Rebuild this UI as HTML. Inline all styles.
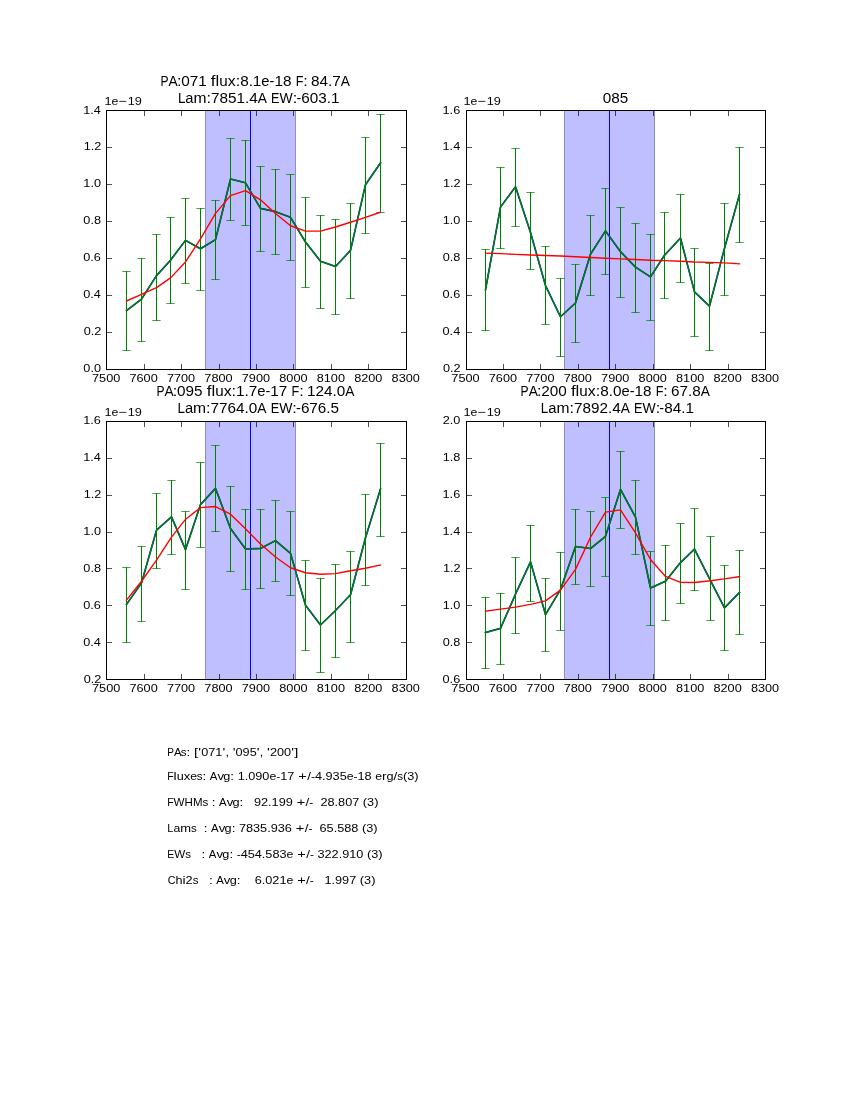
<!DOCTYPE html>
<html><head><meta charset="utf-8"><title>plot</title><style>html,body{margin:0;padding:0;background:#fff;width:850px;height:1100px;overflow:hidden}svg{display:block;will-change:transform}text{font-family:"Liberation Sans",sans-serif}</style></head><body>
<svg width="850" height="1100" viewBox="0 0 850 1100" font-family="Liberation Sans, sans-serif" style="white-space:pre">
<rect x="206" y="110.5" width="89" height="259.0" fill="#bfbfff"/>
<path d="M205.5 110.5V369.5M295.5 110.5V369.5" stroke="#8f8fbf" stroke-width="1"/>
<path d="M250.5 110.5V369.5" stroke="#0000ff" stroke-width="1"/>
<polyline points="126.50,310.65 141.50,299.08 156.50,275.64 170.50,260.21 185.50,240.38 200.50,248.79 215.50,239.59 230.50,179.05 245.50,182.84 260.50,208.40 275.50,211.63 290.50,217.36 305.50,242.00 320.50,261.27 335.50,266.49 350.50,250.41 365.50,184.69 380.50,162.87" fill="none" stroke="#0000ff" stroke-width="1.6" stroke-linejoin="round" stroke-linecap="square"/>
<path d="M126.5 271.0V351.0M141.5 258.0V342.0M156.5 234.0V321.0M170.5 217.0V304.0M185.5 198.0V284.0M200.5 208.0V291.0M215.5 200.0V280.0M230.5 138.0V221.0M245.5 140.0V226.0M260.5 166.0V252.0M275.5 169.0V255.0M290.5 174.0V261.0M305.5 197.0V288.0M320.5 215.0V309.0M335.5 219.0V315.0M350.5 203.0V299.0M365.5 137.0V234.0M380.5 114.0V213.0" stroke="#008000" stroke-width="1"/>
<path d="M122.33 271.5h8.34M122.33 350.5h8.34M137.33 258.5h8.34M137.33 341.5h8.34M152.33 234.5h8.34M152.33 320.5h8.34M166.33 217.5h8.34M166.33 303.5h8.34M181.33 198.5h8.34M181.33 283.5h8.34M196.33 208.5h8.34M196.33 290.5h8.34M211.33 200.5h8.34M211.33 279.5h8.34M226.33 138.5h8.34M226.33 220.5h8.34M241.33 140.5h8.34M241.33 225.5h8.34M256.33 166.5h8.34M256.33 251.5h8.34M271.33 169.5h8.34M271.33 254.5h8.34M286.33 174.5h8.34M286.33 260.5h8.34M301.33 197.5h8.34M301.33 287.5h8.34M316.33 215.5h8.34M316.33 308.5h8.34M331.33 219.5h8.34M331.33 314.5h8.34M346.33 203.5h8.34M346.33 298.5h8.34M361.33 137.5h8.34M361.33 233.5h8.34M376.33 114.5h8.34M376.33 212.5h8.34" stroke="#008000" stroke-width="1" opacity="0.72"/>
<polyline points="126.50,310.65 141.50,299.08 156.50,275.64 170.50,260.21 185.50,240.38 200.50,248.79 215.50,239.59 230.50,179.05 245.50,182.84 260.50,208.40 275.50,211.63 290.50,217.36 305.50,242.00 320.50,261.27 335.50,266.49 350.50,250.41 365.50,184.69 380.50,162.87" fill="none" stroke="#008000" stroke-width="1.45" stroke-linejoin="round" stroke-linecap="square"/>
<polyline points="126.50,300.97 141.50,294.32 156.50,287.66 170.50,277.86 185.50,261.96 200.50,238.86 215.50,213.34 230.50,195.60 245.50,190.60 260.50,199.85 275.50,213.53 290.50,225.73 305.50,231.09 320.50,231.09 335.50,227.02 350.50,222.22 365.50,217.41 380.50,212.23" fill="none" stroke="#ff0000" stroke-width="1.39" stroke-linejoin="round" stroke-linecap="square"/>
<rect x="106.5" y="110.5" width="300.0" height="259.0" fill="none" stroke="#000" stroke-width="1"/>
<path d="M106.5 369.5v-5.56M106.5 110.5v5.56M144.5 369.5v-5.56M144.5 110.5v5.56M181.5 369.5v-5.56M181.5 110.5v5.56M219.5 369.5v-5.56M219.5 110.5v5.56M256.5 369.5v-5.56M256.5 110.5v5.56M293.5 369.5v-5.56M293.5 110.5v5.56M331.5 369.5v-5.56M331.5 110.5v5.56M368.5 369.5v-5.56M368.5 110.5v5.56M406.5 369.5v-5.56M406.5 110.5v5.56M106.5 369.5h5.56M406.5 369.5h-5.56M106.5 332.5h5.56M406.5 332.5h-5.56M106.5 295.5h5.56M406.5 295.5h-5.56M106.5 258.5h5.56M406.5 258.5h-5.56M106.5 221.5h5.56M406.5 221.5h-5.56M106.5 184.5h5.56M406.5 184.5h-5.56M106.5 147.5h5.56M406.5 147.5h-5.56M106.5 110.5h5.56M406.5 110.5h-5.56" stroke="#000" stroke-width="0.69"/>
<g font-size="11.72" fill="#000"><text transform="matrix(1.085 0 0 1 92.05 381.80)">7</text><text transform="matrix(1.085 0 0 1 99.11 381.80)">5</text><text transform="matrix(1.085 0 0 1 106.17 381.80)">0</text><text transform="matrix(1.085 0 0 1 113.24 381.80)">0</text></g>
<g font-size="11.72" fill="#000"><text transform="matrix(1.085 0 0 1 129.48 381.80)">7</text><text transform="matrix(1.085 0 0 1 136.54 381.80)">6</text><text transform="matrix(1.085 0 0 1 143.60 381.80)">0</text><text transform="matrix(1.085 0 0 1 150.67 381.80)">0</text></g>
<g font-size="11.72" fill="#000"><text transform="matrix(1.085 0 0 1 166.91 381.80)">7</text><text transform="matrix(1.085 0 0 1 173.97 381.80)">7</text><text transform="matrix(1.085 0 0 1 181.03 381.80)">0</text><text transform="matrix(1.085 0 0 1 188.09 381.80)">0</text></g>
<g font-size="11.72" fill="#000"><text transform="matrix(1.085 0 0 1 204.34 381.80)">7</text><text transform="matrix(1.085 0 0 1 211.40 381.80)">8</text><text transform="matrix(1.085 0 0 1 218.46 381.80)">0</text><text transform="matrix(1.085 0 0 1 225.52 381.80)">0</text></g>
<g font-size="11.72" fill="#000"><text transform="matrix(1.085 0 0 1 241.76 381.80)">7</text><text transform="matrix(1.085 0 0 1 248.83 381.80)">9</text><text transform="matrix(1.085 0 0 1 255.89 381.80)">0</text><text transform="matrix(1.085 0 0 1 262.95 381.80)">0</text></g>
<g font-size="11.72" fill="#000"><text transform="matrix(1.085 0 0 1 279.29 381.80)">8</text><text transform="matrix(1.085 0 0 1 286.36 381.80)">0</text><text transform="matrix(1.085 0 0 1 293.42 381.80)">0</text><text transform="matrix(1.085 0 0 1 300.48 381.80)">0</text></g>
<g font-size="11.72" fill="#000"><text transform="matrix(1.085 0 0 1 316.72 381.80)">8</text><text transform="matrix(1.085 0 0 1 323.79 381.80)">1</text><text transform="matrix(1.085 0 0 1 330.85 381.80)">0</text><text transform="matrix(1.085 0 0 1 337.91 381.80)">0</text></g>
<g font-size="11.72" fill="#000"><text transform="matrix(1.085 0 0 1 354.15 381.80)">8</text><text transform="matrix(1.085 0 0 1 361.21 381.80)">2</text><text transform="matrix(1.085 0 0 1 368.28 381.80)">0</text><text transform="matrix(1.085 0 0 1 375.34 381.80)">0</text></g>
<g font-size="11.72" fill="#000"><text transform="matrix(1.085 0 0 1 391.58 381.80)">8</text><text transform="matrix(1.085 0 0 1 398.64 381.80)">3</text><text transform="matrix(1.085 0 0 1 405.71 381.80)">0</text><text transform="matrix(1.085 0 0 1 412.77 381.80)">0</text></g>
<g font-size="11.72" fill="#000"><text transform="matrix(1.085 0 0 1 83.34 372.00)">0</text><text transform="matrix(1.085 0 0 1 90.40 372.00)">.</text><text transform="matrix(1.085 0 0 1 93.93 372.00)">0</text></g>
<g font-size="11.72" fill="#000"><text transform="matrix(1.085 0 0 1 83.64 335.00)">0</text><text transform="matrix(1.085 0 0 1 90.70 335.00)">.</text><text transform="matrix(1.085 0 0 1 94.23 335.00)">2</text></g>
<g font-size="11.72" fill="#000"><text transform="matrix(1.085 0 0 1 83.24 298.00)">0</text><text transform="matrix(1.085 0 0 1 90.30 298.00)">.</text><text transform="matrix(1.085 0 0 1 93.83 298.00)">4</text></g>
<g font-size="11.72" fill="#000"><text transform="matrix(1.085 0 0 1 83.24 261.00)">0</text><text transform="matrix(1.085 0 0 1 90.30 261.00)">.</text><text transform="matrix(1.085 0 0 1 93.83 261.00)">6</text></g>
<g font-size="11.72" fill="#000"><text transform="matrix(1.085 0 0 1 83.34 224.00)">0</text><text transform="matrix(1.085 0 0 1 90.40 224.00)">.</text><text transform="matrix(1.085 0 0 1 93.93 224.00)">8</text></g>
<g font-size="11.72" fill="#000"><text transform="matrix(1.085 0 0 1 83.34 187.00)">1</text><text transform="matrix(1.085 0 0 1 90.40 187.00)">.</text><text transform="matrix(1.085 0 0 1 93.93 187.00)">0</text></g>
<g font-size="11.72" fill="#000"><text transform="matrix(1.085 0 0 1 83.64 150.00)">1</text><text transform="matrix(1.085 0 0 1 90.70 150.00)">.</text><text transform="matrix(1.085 0 0 1 94.23 150.00)">2</text></g>
<g font-size="11.72" fill="#000"><text transform="matrix(1.085 0 0 1 83.24 114.00)">1</text><text transform="matrix(1.085 0 0 1 90.30 114.00)">.</text><text transform="matrix(1.085 0 0 1 93.83 114.00)">4</text></g>
<g font-size="11.72" fill="#000"><text transform="matrix(1.085 0 0 1 104.50 104.90)">1</text><text transform="matrix(1.049 0 0 1 111.56 104.90)">e</text><text transform="matrix(1.250 0 0 1 118.77 104.90)">−</text><text transform="matrix(1.085 0 0 1 127.69 104.90)">1</text><text transform="matrix(1.085 0 0 1 134.75 104.90)">9</text></g>
<rect x="565" y="110.5" width="89" height="259.0" fill="#bfbfff"/>
<path d="M564.5 110.5V369.5M654.5 110.5V369.5" stroke="#8f8fbf" stroke-width="1"/>
<path d="M609.5 110.5V369.5" stroke="#0000ff" stroke-width="1"/>
<polyline points="485.50,289.79 500.50,207.06 515.50,186.81 530.50,232.48 545.50,285.54 560.50,316.78 575.50,303.01 590.50,254.20 605.50,230.91 620.50,251.66 635.50,267.14 650.50,276.94 664.50,255.26 680.50,238.02 694.50,291.91 709.50,306.10 724.50,248.24 739.50,194.39" fill="none" stroke="#0000ff" stroke-width="1.6" stroke-linejoin="round" stroke-linecap="square"/>
<path d="M485.5 249.0V331.0M500.5 167.0V249.0M515.5 148.0V227.0M530.5 192.0V270.0M545.5 246.0V325.0M560.5 278.0V357.0M575.5 264.0V343.0M590.5 215.0V296.0M605.5 188.0V275.0M620.5 207.0V298.0M635.5 223.0V313.0M650.5 234.0V321.0M664.5 212.0V299.0M680.5 194.0V283.0M694.5 248.0V337.0M709.5 263.0V351.0M724.5 203.0V296.0M739.5 147.0V243.0" stroke="#008000" stroke-width="1"/>
<path d="M481.33 249.5h8.34M481.33 330.5h8.34M496.33 167.5h8.34M496.33 248.5h8.34M511.33 148.5h8.34M511.33 226.5h8.34M526.33 192.5h8.34M526.33 269.5h8.34M541.33 246.5h8.34M541.33 324.5h8.34M556.33 278.5h8.34M556.33 356.5h8.34M571.33 264.5h8.34M571.33 342.5h8.34M586.33 215.5h8.34M586.33 295.5h8.34M601.33 188.5h8.34M601.33 274.5h8.34M616.33 207.5h8.34M616.33 297.5h8.34M631.33 223.5h8.34M631.33 312.5h8.34M646.33 234.5h8.34M646.33 320.5h8.34M660.33 212.5h8.34M660.33 298.5h8.34M676.33 194.5h8.34M676.33 282.5h8.34M690.33 248.5h8.34M690.33 336.5h8.34M705.33 263.5h8.34M705.33 350.5h8.34M720.33 203.5h8.34M720.33 295.5h8.34M735.33 147.5h8.34M735.33 242.5h8.34" stroke="#008000" stroke-width="1" opacity="0.72"/>
<polyline points="485.50,289.79 500.50,207.06 515.50,186.81 530.50,232.48 545.50,285.54 560.50,316.78 575.50,303.01 590.50,254.20 605.50,230.91 620.50,251.66 635.50,267.14 650.50,276.94 664.50,255.26 680.50,238.02 694.50,291.91 709.50,306.10 724.50,248.24 739.50,194.39" fill="none" stroke="#008000" stroke-width="1.45" stroke-linejoin="round" stroke-linecap="square"/>
<polyline points="485.50,253.09 500.50,253.65 515.50,254.38 530.50,254.94 545.50,255.49 560.50,256.05 575.50,256.79 590.50,257.53 605.50,258.27 620.50,258.82 635.50,259.56 650.50,260.30 664.50,260.67 680.50,261.22 694.50,261.96 709.50,262.33 724.50,262.89 739.50,263.81" fill="none" stroke="#ff0000" stroke-width="1.39" stroke-linejoin="round" stroke-linecap="square"/>
<rect x="466.5" y="110.5" width="299.0" height="259.0" fill="none" stroke="#000" stroke-width="1"/>
<path d="M466.5 369.5v-5.56M466.5 110.5v5.56M503.5 369.5v-5.56M503.5 110.5v5.56M540.5 369.5v-5.56M540.5 110.5v5.56M578.5 369.5v-5.56M578.5 110.5v5.56M615.5 369.5v-5.56M615.5 110.5v5.56M653.5 369.5v-5.56M653.5 110.5v5.56M690.5 369.5v-5.56M690.5 110.5v5.56M728.5 369.5v-5.56M728.5 110.5v5.56M765.5 369.5v-5.56M765.5 110.5v5.56M466.5 369.5h5.56M765.5 369.5h-5.56M466.5 332.5h5.56M765.5 332.5h-5.56M466.5 295.5h5.56M765.5 295.5h-5.56M466.5 258.5h5.56M765.5 258.5h-5.56M466.5 221.5h5.56M765.5 221.5h-5.56M466.5 184.5h5.56M765.5 184.5h-5.56M466.5 147.5h5.56M765.5 147.5h-5.56M466.5 110.5h5.56M765.5 110.5h-5.56" stroke="#000" stroke-width="0.69"/>
<g font-size="11.72" fill="#000"><text transform="matrix(1.085 0 0 1 451.37 381.80)">7</text><text transform="matrix(1.085 0 0 1 458.43 381.80)">5</text><text transform="matrix(1.085 0 0 1 465.50 381.80)">0</text><text transform="matrix(1.085 0 0 1 472.56 381.80)">0</text></g>
<g font-size="11.72" fill="#000"><text transform="matrix(1.085 0 0 1 488.80 381.80)">7</text><text transform="matrix(1.085 0 0 1 495.86 381.80)">6</text><text transform="matrix(1.085 0 0 1 502.92 381.80)">0</text><text transform="matrix(1.085 0 0 1 509.99 381.80)">0</text></g>
<g font-size="11.72" fill="#000"><text transform="matrix(1.085 0 0 1 526.23 381.80)">7</text><text transform="matrix(1.085 0 0 1 533.29 381.80)">7</text><text transform="matrix(1.085 0 0 1 540.35 381.80)">0</text><text transform="matrix(1.085 0 0 1 547.42 381.80)">0</text></g>
<g font-size="11.72" fill="#000"><text transform="matrix(1.085 0 0 1 563.66 381.80)">7</text><text transform="matrix(1.085 0 0 1 570.72 381.80)">8</text><text transform="matrix(1.085 0 0 1 577.78 381.80)">0</text><text transform="matrix(1.085 0 0 1 584.84 381.80)">0</text></g>
<g font-size="11.72" fill="#000"><text transform="matrix(1.085 0 0 1 601.09 381.80)">7</text><text transform="matrix(1.085 0 0 1 608.15 381.80)">9</text><text transform="matrix(1.085 0 0 1 615.21 381.80)">0</text><text transform="matrix(1.085 0 0 1 622.27 381.80)">0</text></g>
<g font-size="11.72" fill="#000"><text transform="matrix(1.085 0 0 1 638.61 381.80)">8</text><text transform="matrix(1.085 0 0 1 645.68 381.80)">0</text><text transform="matrix(1.085 0 0 1 652.74 381.80)">0</text><text transform="matrix(1.085 0 0 1 659.80 381.80)">0</text></g>
<g font-size="11.72" fill="#000"><text transform="matrix(1.085 0 0 1 676.04 381.80)">8</text><text transform="matrix(1.085 0 0 1 683.10 381.80)">1</text><text transform="matrix(1.085 0 0 1 690.17 381.80)">0</text><text transform="matrix(1.085 0 0 1 697.23 381.80)">0</text></g>
<g font-size="11.72" fill="#000"><text transform="matrix(1.085 0 0 1 713.47 381.80)">8</text><text transform="matrix(1.085 0 0 1 720.53 381.80)">2</text><text transform="matrix(1.085 0 0 1 727.60 381.80)">0</text><text transform="matrix(1.085 0 0 1 734.66 381.80)">0</text></g>
<g font-size="11.72" fill="#000"><text transform="matrix(1.085 0 0 1 750.90 381.80)">8</text><text transform="matrix(1.085 0 0 1 757.96 381.80)">3</text><text transform="matrix(1.085 0 0 1 765.02 381.80)">0</text><text transform="matrix(1.085 0 0 1 772.09 381.80)">0</text></g>
<g font-size="11.72" fill="#000"><text transform="matrix(1.085 0 0 1 442.96 372.00)">0</text><text transform="matrix(1.085 0 0 1 450.02 372.00)">.</text><text transform="matrix(1.085 0 0 1 453.55 372.00)">2</text></g>
<g font-size="11.72" fill="#000"><text transform="matrix(1.085 0 0 1 442.56 335.00)">0</text><text transform="matrix(1.085 0 0 1 449.62 335.00)">.</text><text transform="matrix(1.085 0 0 1 453.15 335.00)">4</text></g>
<g font-size="11.72" fill="#000"><text transform="matrix(1.085 0 0 1 442.56 298.00)">0</text><text transform="matrix(1.085 0 0 1 449.62 298.00)">.</text><text transform="matrix(1.085 0 0 1 453.15 298.00)">6</text></g>
<g font-size="11.72" fill="#000"><text transform="matrix(1.085 0 0 1 442.66 261.00)">0</text><text transform="matrix(1.085 0 0 1 449.72 261.00)">.</text><text transform="matrix(1.085 0 0 1 453.25 261.00)">8</text></g>
<g font-size="11.72" fill="#000"><text transform="matrix(1.085 0 0 1 442.66 224.00)">1</text><text transform="matrix(1.085 0 0 1 449.72 224.00)">.</text><text transform="matrix(1.085 0 0 1 453.25 224.00)">0</text></g>
<g font-size="11.72" fill="#000"><text transform="matrix(1.085 0 0 1 442.96 187.00)">1</text><text transform="matrix(1.085 0 0 1 450.02 187.00)">.</text><text transform="matrix(1.085 0 0 1 453.55 187.00)">2</text></g>
<g font-size="11.72" fill="#000"><text transform="matrix(1.085 0 0 1 442.56 150.00)">1</text><text transform="matrix(1.085 0 0 1 449.62 150.00)">.</text><text transform="matrix(1.085 0 0 1 453.15 150.00)">4</text></g>
<g font-size="11.72" fill="#000"><text transform="matrix(1.085 0 0 1 442.56 114.00)">1</text><text transform="matrix(1.085 0 0 1 449.62 114.00)">.</text><text transform="matrix(1.085 0 0 1 453.15 114.00)">6</text></g>
<g font-size="11.72" fill="#000"><text transform="matrix(1.085 0 0 1 463.50 104.90)">1</text><text transform="matrix(1.049 0 0 1 470.56 104.90)">e</text><text transform="matrix(1.250 0 0 1 477.77 104.90)">−</text><text transform="matrix(1.085 0 0 1 486.69 104.90)">1</text><text transform="matrix(1.085 0 0 1 493.75 104.90)">9</text></g>
<rect x="206" y="421.5" width="89" height="258.0" fill="#bfbfff"/>
<path d="M205.5 421.5V679.5M295.5 421.5V679.5" stroke="#8f8fbf" stroke-width="1"/>
<path d="M250.5 421.5V679.5" stroke="#0000ff" stroke-width="1"/>
<polyline points="126.50,604.35 141.50,582.95 156.50,530.22 171.50,516.86 185.50,549.68 200.50,504.61 215.50,488.39 230.50,528.42 245.50,548.94 260.50,548.47 275.50,540.66 290.50,553.37 305.50,605.18 320.50,624.97 335.50,610.50 350.50,594.74 365.50,537.80 380.50,488.95" fill="none" stroke="#0000ff" stroke-width="1.6" stroke-linejoin="round" stroke-linecap="square"/>
<path d="M126.5 567.0V643.0M141.5 546.0V622.0M156.5 493.0V569.0M171.5 480.0V555.0M185.5 511.0V590.0M200.5 462.0V548.0M215.5 445.0V532.0M230.5 486.0V572.0M245.5 509.0V590.0M260.5 509.0V589.0M275.5 500.0V582.0M290.5 511.0V596.0M305.5 560.0V651.0M320.5 578.0V673.0M335.5 564.0V658.0M350.5 551.0V643.0M365.5 494.0V586.0M380.5 443.0V537.0" stroke="#008000" stroke-width="1"/>
<path d="M122.33 567.5h8.34M122.33 642.5h8.34M137.33 546.5h8.34M137.33 621.5h8.34M152.33 493.5h8.34M152.33 568.5h8.34M167.33 480.5h8.34M167.33 554.5h8.34M181.33 511.5h8.34M181.33 589.5h8.34M196.33 462.5h8.34M196.33 547.5h8.34M211.33 445.5h8.34M211.33 531.5h8.34M226.33 486.5h8.34M226.33 571.5h8.34M241.33 509.5h8.34M241.33 589.5h8.34M256.33 509.5h8.34M256.33 588.5h8.34M271.33 500.5h8.34M271.33 581.5h8.34M286.33 511.5h8.34M286.33 595.5h8.34M301.33 560.5h8.34M301.33 650.5h8.34M316.33 578.5h8.34M316.33 672.5h8.34M331.33 564.5h8.34M331.33 657.5h8.34M346.33 551.5h8.34M346.33 642.5h8.34M361.33 494.5h8.34M361.33 585.5h8.34M376.33 443.5h8.34M376.33 536.5h8.34" stroke="#008000" stroke-width="1" opacity="0.72"/>
<polyline points="126.50,604.35 141.50,582.95 156.50,530.22 171.50,516.86 185.50,549.68 200.50,504.61 215.50,488.39 230.50,528.42 245.50,548.94 260.50,548.47 275.50,540.66 290.50,553.37 305.50,605.18 320.50,624.97 335.50,610.50 350.50,594.74 365.50,537.80 380.50,488.95" fill="none" stroke="#008000" stroke-width="1.45" stroke-linejoin="round" stroke-linecap="square"/>
<polyline points="126.50,600.10 141.50,581.24 156.50,560.17 171.50,537.06 185.50,519.31 200.50,507.66 215.50,506.56 230.50,514.13 245.50,528.74 260.50,544.08 275.50,557.03 290.50,567.75 305.50,572.74 320.50,574.22 335.50,573.66 350.50,570.71 365.50,568.30 380.50,564.97" fill="none" stroke="#ff0000" stroke-width="1.39" stroke-linejoin="round" stroke-linecap="square"/>
<rect x="106.5" y="421.5" width="300.0" height="258.0" fill="none" stroke="#000" stroke-width="1"/>
<path d="M106.5 679.5v-5.56M106.5 421.5v5.56M144.5 679.5v-5.56M144.5 421.5v5.56M181.5 679.5v-5.56M181.5 421.5v5.56M219.5 679.5v-5.56M219.5 421.5v5.56M256.5 679.5v-5.56M256.5 421.5v5.56M293.5 679.5v-5.56M293.5 421.5v5.56M331.5 679.5v-5.56M331.5 421.5v5.56M368.5 679.5v-5.56M368.5 421.5v5.56M406.5 679.5v-5.56M406.5 421.5v5.56M106.5 679.5h5.56M406.5 679.5h-5.56M106.5 642.5h5.56M406.5 642.5h-5.56M106.5 605.5h5.56M406.5 605.5h-5.56M106.5 568.5h5.56M406.5 568.5h-5.56M106.5 532.5h5.56M406.5 532.5h-5.56M106.5 495.5h5.56M406.5 495.5h-5.56M106.5 458.5h5.56M406.5 458.5h-5.56M106.5 421.5h5.56M406.5 421.5h-5.56" stroke="#000" stroke-width="0.69"/>
<g font-size="11.72" fill="#000"><text transform="matrix(1.085 0 0 1 92.05 692.40)">7</text><text transform="matrix(1.085 0 0 1 99.11 692.40)">5</text><text transform="matrix(1.085 0 0 1 106.17 692.40)">0</text><text transform="matrix(1.085 0 0 1 113.24 692.40)">0</text></g>
<g font-size="11.72" fill="#000"><text transform="matrix(1.085 0 0 1 129.48 692.40)">7</text><text transform="matrix(1.085 0 0 1 136.54 692.40)">6</text><text transform="matrix(1.085 0 0 1 143.60 692.40)">0</text><text transform="matrix(1.085 0 0 1 150.67 692.40)">0</text></g>
<g font-size="11.72" fill="#000"><text transform="matrix(1.085 0 0 1 166.91 692.40)">7</text><text transform="matrix(1.085 0 0 1 173.97 692.40)">7</text><text transform="matrix(1.085 0 0 1 181.03 692.40)">0</text><text transform="matrix(1.085 0 0 1 188.09 692.40)">0</text></g>
<g font-size="11.72" fill="#000"><text transform="matrix(1.085 0 0 1 204.34 692.40)">7</text><text transform="matrix(1.085 0 0 1 211.40 692.40)">8</text><text transform="matrix(1.085 0 0 1 218.46 692.40)">0</text><text transform="matrix(1.085 0 0 1 225.52 692.40)">0</text></g>
<g font-size="11.72" fill="#000"><text transform="matrix(1.085 0 0 1 241.76 692.40)">7</text><text transform="matrix(1.085 0 0 1 248.83 692.40)">9</text><text transform="matrix(1.085 0 0 1 255.89 692.40)">0</text><text transform="matrix(1.085 0 0 1 262.95 692.40)">0</text></g>
<g font-size="11.72" fill="#000"><text transform="matrix(1.085 0 0 1 279.29 692.40)">8</text><text transform="matrix(1.085 0 0 1 286.36 692.40)">0</text><text transform="matrix(1.085 0 0 1 293.42 692.40)">0</text><text transform="matrix(1.085 0 0 1 300.48 692.40)">0</text></g>
<g font-size="11.72" fill="#000"><text transform="matrix(1.085 0 0 1 316.72 692.40)">8</text><text transform="matrix(1.085 0 0 1 323.79 692.40)">1</text><text transform="matrix(1.085 0 0 1 330.85 692.40)">0</text><text transform="matrix(1.085 0 0 1 337.91 692.40)">0</text></g>
<g font-size="11.72" fill="#000"><text transform="matrix(1.085 0 0 1 354.15 692.40)">8</text><text transform="matrix(1.085 0 0 1 361.21 692.40)">2</text><text transform="matrix(1.085 0 0 1 368.28 692.40)">0</text><text transform="matrix(1.085 0 0 1 375.34 692.40)">0</text></g>
<g font-size="11.72" fill="#000"><text transform="matrix(1.085 0 0 1 391.58 692.40)">8</text><text transform="matrix(1.085 0 0 1 398.64 692.40)">3</text><text transform="matrix(1.085 0 0 1 405.71 692.40)">0</text><text transform="matrix(1.085 0 0 1 412.77 692.40)">0</text></g>
<g font-size="11.72" fill="#000"><text transform="matrix(1.085 0 0 1 83.64 683.00)">0</text><text transform="matrix(1.085 0 0 1 90.70 683.00)">.</text><text transform="matrix(1.085 0 0 1 94.23 683.00)">2</text></g>
<g font-size="11.72" fill="#000"><text transform="matrix(1.085 0 0 1 83.24 646.00)">0</text><text transform="matrix(1.085 0 0 1 90.30 646.00)">.</text><text transform="matrix(1.085 0 0 1 93.83 646.00)">4</text></g>
<g font-size="11.72" fill="#000"><text transform="matrix(1.085 0 0 1 83.24 609.00)">0</text><text transform="matrix(1.085 0 0 1 90.30 609.00)">.</text><text transform="matrix(1.085 0 0 1 93.83 609.00)">6</text></g>
<g font-size="11.72" fill="#000"><text transform="matrix(1.085 0 0 1 83.34 572.00)">0</text><text transform="matrix(1.085 0 0 1 90.40 572.00)">.</text><text transform="matrix(1.085 0 0 1 93.93 572.00)">8</text></g>
<g font-size="11.72" fill="#000"><text transform="matrix(1.085 0 0 1 83.34 535.00)">1</text><text transform="matrix(1.085 0 0 1 90.40 535.00)">.</text><text transform="matrix(1.085 0 0 1 93.93 535.00)">0</text></g>
<g font-size="11.72" fill="#000"><text transform="matrix(1.085 0 0 1 83.64 498.00)">1</text><text transform="matrix(1.085 0 0 1 90.70 498.00)">.</text><text transform="matrix(1.085 0 0 1 94.23 498.00)">2</text></g>
<g font-size="11.72" fill="#000"><text transform="matrix(1.085 0 0 1 83.24 461.00)">1</text><text transform="matrix(1.085 0 0 1 90.30 461.00)">.</text><text transform="matrix(1.085 0 0 1 93.83 461.00)">4</text></g>
<g font-size="11.72" fill="#000"><text transform="matrix(1.085 0 0 1 83.24 424.00)">1</text><text transform="matrix(1.085 0 0 1 90.30 424.00)">.</text><text transform="matrix(1.085 0 0 1 93.83 424.00)">6</text></g>
<g font-size="11.72" fill="#000"><text transform="matrix(1.085 0 0 1 104.50 415.80)">1</text><text transform="matrix(1.049 0 0 1 111.56 415.80)">e</text><text transform="matrix(1.250 0 0 1 118.77 415.80)">−</text><text transform="matrix(1.085 0 0 1 127.69 415.80)">1</text><text transform="matrix(1.085 0 0 1 134.75 415.80)">9</text></g>
<rect x="565" y="421.5" width="89" height="258.0" fill="#bfbfff"/>
<path d="M564.5 421.5V679.5M654.5 421.5V679.5" stroke="#8f8fbf" stroke-width="1"/>
<path d="M609.5 421.5V679.5" stroke="#0000ff" stroke-width="1"/>
<polyline points="485.50,632.50 500.50,628.39 515.50,594.18 530.50,561.83 545.50,614.57 560.50,589.56 575.50,546.58 590.50,548.57 605.50,536.32 620.50,489.41 635.50,517.14 650.50,587.99 665.50,581.24 680.50,562.57 694.50,549.08 710.50,580.69 724.50,607.86 739.50,592.43" fill="none" stroke="#0000ff" stroke-width="1.6" stroke-linejoin="round" stroke-linecap="square"/>
<path d="M485.5 597.0V669.0M500.5 593.0V665.0M515.5 557.0V634.0M530.5 525.0V602.0M545.5 578.0V652.0M560.5 552.0V631.0M575.5 509.0V585.0M590.5 511.0V587.0M605.5 497.0V577.0M620.5 451.0V529.0M635.5 480.0V555.0M650.5 551.0V626.0M665.5 545.0V621.0M680.5 523.0V604.0M694.5 508.0V591.0M710.5 536.0V621.0M724.5 565.0V651.0M739.5 550.0V635.0" stroke="#008000" stroke-width="1"/>
<path d="M481.33 597.5h8.34M481.33 668.5h8.34M496.33 593.5h8.34M496.33 664.5h8.34M511.33 557.5h8.34M511.33 633.5h8.34M526.33 525.5h8.34M526.33 601.5h8.34M541.33 578.5h8.34M541.33 651.5h8.34M556.33 552.5h8.34M556.33 630.5h8.34M571.33 509.5h8.34M571.33 584.5h8.34M586.33 511.5h8.34M586.33 586.5h8.34M601.33 497.5h8.34M601.33 576.5h8.34M616.33 451.5h8.34M616.33 528.5h8.34M631.33 480.5h8.34M631.33 554.5h8.34M646.33 551.5h8.34M646.33 625.5h8.34M661.33 545.5h8.34M661.33 620.5h8.34M676.33 523.5h8.34M676.33 603.5h8.34M690.33 508.5h8.34M690.33 590.5h8.34M706.33 536.5h8.34M706.33 620.5h8.34M720.33 565.5h8.34M720.33 650.5h8.34M735.33 550.5h8.34M735.33 634.5h8.34" stroke="#008000" stroke-width="1" opacity="0.72"/>
<polyline points="485.50,632.50 500.50,628.39 515.50,594.18 530.50,561.83 545.50,614.57 560.50,589.56 575.50,546.58 590.50,548.57 605.50,536.32 620.50,489.41 635.50,517.14 650.50,587.99 665.50,581.24 680.50,562.57 694.50,549.08 710.50,580.69 724.50,607.86 739.50,592.43" fill="none" stroke="#008000" stroke-width="1.45" stroke-linejoin="round" stroke-linecap="square"/>
<polyline points="485.50,611.19 500.50,609.16 515.50,607.13 530.50,604.35 545.50,600.84 560.50,590.12 575.50,569.41 590.50,537.24 605.50,512.10 620.50,509.88 635.50,532.99 650.50,559.43 665.50,576.44 680.50,582.35 694.50,582.54 710.50,580.69 724.50,578.84 739.50,576.62" fill="none" stroke="#ff0000" stroke-width="1.39" stroke-linejoin="round" stroke-linecap="square"/>
<rect x="466.5" y="421.5" width="299.0" height="258.0" fill="none" stroke="#000" stroke-width="1"/>
<path d="M466.5 679.5v-5.56M466.5 421.5v5.56M503.5 679.5v-5.56M503.5 421.5v5.56M540.5 679.5v-5.56M540.5 421.5v5.56M578.5 679.5v-5.56M578.5 421.5v5.56M615.5 679.5v-5.56M615.5 421.5v5.56M653.5 679.5v-5.56M653.5 421.5v5.56M690.5 679.5v-5.56M690.5 421.5v5.56M728.5 679.5v-5.56M728.5 421.5v5.56M765.5 679.5v-5.56M765.5 421.5v5.56M466.5 679.5h5.56M765.5 679.5h-5.56M466.5 642.5h5.56M765.5 642.5h-5.56M466.5 605.5h5.56M765.5 605.5h-5.56M466.5 568.5h5.56M765.5 568.5h-5.56M466.5 532.5h5.56M765.5 532.5h-5.56M466.5 495.5h5.56M765.5 495.5h-5.56M466.5 458.5h5.56M765.5 458.5h-5.56M466.5 421.5h5.56M765.5 421.5h-5.56" stroke="#000" stroke-width="0.69"/>
<g font-size="11.72" fill="#000"><text transform="matrix(1.085 0 0 1 451.37 692.40)">7</text><text transform="matrix(1.085 0 0 1 458.43 692.40)">5</text><text transform="matrix(1.085 0 0 1 465.50 692.40)">0</text><text transform="matrix(1.085 0 0 1 472.56 692.40)">0</text></g>
<g font-size="11.72" fill="#000"><text transform="matrix(1.085 0 0 1 488.80 692.40)">7</text><text transform="matrix(1.085 0 0 1 495.86 692.40)">6</text><text transform="matrix(1.085 0 0 1 502.92 692.40)">0</text><text transform="matrix(1.085 0 0 1 509.99 692.40)">0</text></g>
<g font-size="11.72" fill="#000"><text transform="matrix(1.085 0 0 1 526.23 692.40)">7</text><text transform="matrix(1.085 0 0 1 533.29 692.40)">7</text><text transform="matrix(1.085 0 0 1 540.35 692.40)">0</text><text transform="matrix(1.085 0 0 1 547.42 692.40)">0</text></g>
<g font-size="11.72" fill="#000"><text transform="matrix(1.085 0 0 1 563.66 692.40)">7</text><text transform="matrix(1.085 0 0 1 570.72 692.40)">8</text><text transform="matrix(1.085 0 0 1 577.78 692.40)">0</text><text transform="matrix(1.085 0 0 1 584.84 692.40)">0</text></g>
<g font-size="11.72" fill="#000"><text transform="matrix(1.085 0 0 1 601.09 692.40)">7</text><text transform="matrix(1.085 0 0 1 608.15 692.40)">9</text><text transform="matrix(1.085 0 0 1 615.21 692.40)">0</text><text transform="matrix(1.085 0 0 1 622.27 692.40)">0</text></g>
<g font-size="11.72" fill="#000"><text transform="matrix(1.085 0 0 1 638.61 692.40)">8</text><text transform="matrix(1.085 0 0 1 645.68 692.40)">0</text><text transform="matrix(1.085 0 0 1 652.74 692.40)">0</text><text transform="matrix(1.085 0 0 1 659.80 692.40)">0</text></g>
<g font-size="11.72" fill="#000"><text transform="matrix(1.085 0 0 1 676.04 692.40)">8</text><text transform="matrix(1.085 0 0 1 683.10 692.40)">1</text><text transform="matrix(1.085 0 0 1 690.17 692.40)">0</text><text transform="matrix(1.085 0 0 1 697.23 692.40)">0</text></g>
<g font-size="11.72" fill="#000"><text transform="matrix(1.085 0 0 1 713.47 692.40)">8</text><text transform="matrix(1.085 0 0 1 720.53 692.40)">2</text><text transform="matrix(1.085 0 0 1 727.60 692.40)">0</text><text transform="matrix(1.085 0 0 1 734.66 692.40)">0</text></g>
<g font-size="11.72" fill="#000"><text transform="matrix(1.085 0 0 1 750.90 692.40)">8</text><text transform="matrix(1.085 0 0 1 757.96 692.40)">3</text><text transform="matrix(1.085 0 0 1 765.02 692.40)">0</text><text transform="matrix(1.085 0 0 1 772.09 692.40)">0</text></g>
<g font-size="11.72" fill="#000"><text transform="matrix(1.085 0 0 1 442.56 683.00)">0</text><text transform="matrix(1.085 0 0 1 449.62 683.00)">.</text><text transform="matrix(1.085 0 0 1 453.15 683.00)">6</text></g>
<g font-size="11.72" fill="#000"><text transform="matrix(1.085 0 0 1 442.66 646.00)">0</text><text transform="matrix(1.085 0 0 1 449.72 646.00)">.</text><text transform="matrix(1.085 0 0 1 453.25 646.00)">8</text></g>
<g font-size="11.72" fill="#000"><text transform="matrix(1.085 0 0 1 442.66 609.00)">1</text><text transform="matrix(1.085 0 0 1 449.72 609.00)">.</text><text transform="matrix(1.085 0 0 1 453.25 609.00)">0</text></g>
<g font-size="11.72" fill="#000"><text transform="matrix(1.085 0 0 1 442.96 572.00)">1</text><text transform="matrix(1.085 0 0 1 450.02 572.00)">.</text><text transform="matrix(1.085 0 0 1 453.55 572.00)">2</text></g>
<g font-size="11.72" fill="#000"><text transform="matrix(1.085 0 0 1 442.56 535.00)">1</text><text transform="matrix(1.085 0 0 1 449.62 535.00)">.</text><text transform="matrix(1.085 0 0 1 453.15 535.00)">4</text></g>
<g font-size="11.72" fill="#000"><text transform="matrix(1.085 0 0 1 442.56 498.00)">1</text><text transform="matrix(1.085 0 0 1 449.62 498.00)">.</text><text transform="matrix(1.085 0 0 1 453.15 498.00)">6</text></g>
<g font-size="11.72" fill="#000"><text transform="matrix(1.085 0 0 1 442.66 461.00)">1</text><text transform="matrix(1.085 0 0 1 449.72 461.00)">.</text><text transform="matrix(1.085 0 0 1 453.25 461.00)">8</text></g>
<g font-size="11.72" fill="#000"><text transform="matrix(1.085 0 0 1 442.66 424.00)">2</text><text transform="matrix(1.085 0 0 1 449.72 424.00)">.</text><text transform="matrix(1.085 0 0 1 453.25 424.00)">0</text></g>
<g font-size="11.72" fill="#000"><text transform="matrix(1.085 0 0 1 463.50 415.80)">1</text><text transform="matrix(1.049 0 0 1 470.56 415.80)">e</text><text transform="matrix(1.250 0 0 1 477.77 415.80)">−</text><text transform="matrix(1.085 0 0 1 486.69 415.80)">1</text><text transform="matrix(1.085 0 0 1 493.75 415.80)">9</text></g>
<g font-size="14.07" fill="#000"><text transform="matrix(0.859 0 0 1 160.55 86.00)">P</text><text transform="matrix(0.975 0 0 1 168.60 86.00)">A</text><text transform="matrix(1.152 0 0 1 176.88 86.00)">:</text><text transform="matrix(1.087 0 0 1 181.14 86.00)">0</text><text transform="matrix(1.087 0 0 1 189.64 86.00)">7</text><text transform="matrix(1.087 0 0 1 198.13 86.00)">1</text><text transform="matrix(1.204 0 0 1 210.87 86.00)">f</text><text transform="matrix(1.188 0 0 1 215.57 86.00)">l</text><text transform="matrix(1.083 0 0 1 219.28 86.00)">u</text><text transform="matrix(1.125 0 0 1 227.74 86.00)">x</text><text transform="matrix(1.152 0 0 1 235.64 86.00)">:</text><text transform="matrix(1.087 0 0 1 240.14 86.00)">8</text><text transform="matrix(1.087 0 0 1 248.63 86.00)">.</text><text transform="matrix(1.087 0 0 1 252.87 86.00)">1</text><text transform="matrix(1.051 0 0 1 261.37 86.00)">e</text><text transform="matrix(1.030 0 0 1 269.58 86.00)">-</text><text transform="matrix(1.087 0 0 1 274.40 86.00)">1</text><text transform="matrix(1.087 0 0 1 282.89 86.00)">8</text><text transform="matrix(0.895 0 0 1 295.63 86.00)">F</text><text transform="matrix(1.152 0 0 1 303.31 86.00)">:</text><text transform="matrix(1.087 0 0 1 311.01 86.00)">8</text><text transform="matrix(1.087 0 0 1 319.51 86.00)">4</text><text transform="matrix(1.087 0 0 1 328.00 86.00)">.</text><text transform="matrix(1.087 0 0 1 332.24 86.00)">7</text><text transform="matrix(0.975 0 0 1 340.74 86.00)">A</text></g>
<g font-size="14.07" fill="#000"><text transform="matrix(0.952 0 0 1 177.90 103.00)">L</text><text transform="matrix(1.047 0 0 1 185.34 103.00)">a</text><text transform="matrix(1.111 0 0 1 193.52 103.00)">m</text><text transform="matrix(1.152 0 0 1 206.52 103.00)">:</text><text transform="matrix(1.087 0 0 1 211.02 103.00)">7</text><text transform="matrix(1.087 0 0 1 219.51 103.00)">8</text><text transform="matrix(1.087 0 0 1 228.01 103.00)">5</text><text transform="matrix(1.087 0 0 1 236.50 103.00)">1</text><text transform="matrix(1.087 0 0 1 245.00 103.00)">.</text><text transform="matrix(1.087 0 0 1 249.24 103.00)">4</text><text transform="matrix(0.975 0 0 1 257.73 103.00)">A</text><text transform="matrix(0.900 0 0 1 271.11 103.00)">E</text><text transform="matrix(0.995 0 0 1 279.54 103.00)">W</text><text transform="matrix(1.152 0 0 1 292.74 103.00)">:</text><text transform="matrix(1.030 0 0 1 296.46 103.00)">-</text><text transform="matrix(1.087 0 0 1 301.28 103.00)">6</text><text transform="matrix(1.087 0 0 1 309.77 103.00)">0</text><text transform="matrix(1.087 0 0 1 318.26 103.00)">3</text><text transform="matrix(1.087 0 0 1 326.76 103.00)">.</text><text transform="matrix(1.087 0 0 1 331.00 103.00)">1</text></g>
<g font-size="14.07" fill="#000"><text transform="matrix(1.087 0 0 1 602.80 103.00)">0</text><text transform="matrix(1.087 0 0 1 611.29 103.00)">8</text><text transform="matrix(1.087 0 0 1 619.79 103.00)">5</text></g>
<g font-size="14.07" fill="#000"><text transform="matrix(0.859 0 0 1 156.50 395.90)">P</text><text transform="matrix(0.975 0 0 1 164.55 395.90)">A</text><text transform="matrix(1.152 0 0 1 172.83 395.90)">:</text><text transform="matrix(1.087 0 0 1 177.09 395.90)">0</text><text transform="matrix(1.087 0 0 1 185.59 395.90)">9</text><text transform="matrix(1.087 0 0 1 194.08 395.90)">5</text><text transform="matrix(1.204 0 0 1 206.82 395.90)">f</text><text transform="matrix(1.188 0 0 1 211.52 395.90)">l</text><text transform="matrix(1.083 0 0 1 215.23 395.90)">u</text><text transform="matrix(1.125 0 0 1 223.69 395.90)">x</text><text transform="matrix(1.152 0 0 1 231.59 395.90)">:</text><text transform="matrix(1.087 0 0 1 236.09 395.90)">1</text><text transform="matrix(1.087 0 0 1 244.58 395.90)">.</text><text transform="matrix(1.087 0 0 1 248.82 395.90)">7</text><text transform="matrix(1.051 0 0 1 257.32 395.90)">e</text><text transform="matrix(1.030 0 0 1 265.53 395.90)">-</text><text transform="matrix(1.087 0 0 1 270.35 395.90)">1</text><text transform="matrix(1.087 0 0 1 278.84 395.90)">7</text><text transform="matrix(0.895 0 0 1 291.58 395.90)">F</text><text transform="matrix(1.152 0 0 1 299.26 395.90)">:</text><text transform="matrix(1.087 0 0 1 306.96 395.90)">1</text><text transform="matrix(1.087 0 0 1 315.46 395.90)">2</text><text transform="matrix(1.087 0 0 1 323.95 395.90)">4</text><text transform="matrix(1.087 0 0 1 332.44 395.90)">.</text><text transform="matrix(1.087 0 0 1 336.69 395.90)">0</text><text transform="matrix(0.975 0 0 1 345.18 395.90)">A</text></g>
<g font-size="14.07" fill="#000"><text transform="matrix(0.952 0 0 1 177.50 412.90)">L</text><text transform="matrix(1.047 0 0 1 184.94 412.90)">a</text><text transform="matrix(1.111 0 0 1 193.12 412.90)">m</text><text transform="matrix(1.152 0 0 1 206.12 412.90)">:</text><text transform="matrix(1.087 0 0 1 210.62 412.90)">7</text><text transform="matrix(1.087 0 0 1 219.11 412.90)">7</text><text transform="matrix(1.087 0 0 1 227.61 412.90)">6</text><text transform="matrix(1.087 0 0 1 236.10 412.90)">4</text><text transform="matrix(1.087 0 0 1 244.60 412.90)">.</text><text transform="matrix(1.087 0 0 1 248.84 412.90)">0</text><text transform="matrix(0.975 0 0 1 257.33 412.90)">A</text><text transform="matrix(0.900 0 0 1 270.71 412.90)">E</text><text transform="matrix(0.995 0 0 1 279.14 412.90)">W</text><text transform="matrix(1.152 0 0 1 292.34 412.90)">:</text><text transform="matrix(1.030 0 0 1 296.06 412.90)">-</text><text transform="matrix(1.087 0 0 1 300.88 412.90)">6</text><text transform="matrix(1.087 0 0 1 309.37 412.90)">7</text><text transform="matrix(1.087 0 0 1 317.86 412.90)">6</text><text transform="matrix(1.087 0 0 1 326.36 412.90)">.</text><text transform="matrix(1.087 0 0 1 330.60 412.90)">5</text></g>
<g font-size="14.07" fill="#000"><text transform="matrix(0.859 0 0 1 520.60 395.90)">P</text><text transform="matrix(0.975 0 0 1 528.65 395.90)">A</text><text transform="matrix(1.152 0 0 1 536.93 395.90)">:</text><text transform="matrix(1.087 0 0 1 541.19 395.90)">2</text><text transform="matrix(1.087 0 0 1 549.69 395.90)">0</text><text transform="matrix(1.087 0 0 1 558.18 395.90)">0</text><text transform="matrix(1.204 0 0 1 570.92 395.90)">f</text><text transform="matrix(1.188 0 0 1 575.62 395.90)">l</text><text transform="matrix(1.083 0 0 1 579.33 395.90)">u</text><text transform="matrix(1.125 0 0 1 587.79 395.90)">x</text><text transform="matrix(1.152 0 0 1 595.69 395.90)">:</text><text transform="matrix(1.087 0 0 1 600.19 395.90)">8</text><text transform="matrix(1.087 0 0 1 608.68 395.90)">.</text><text transform="matrix(1.087 0 0 1 612.92 395.90)">0</text><text transform="matrix(1.051 0 0 1 621.42 395.90)">e</text><text transform="matrix(1.030 0 0 1 629.63 395.90)">-</text><text transform="matrix(1.087 0 0 1 634.45 395.90)">1</text><text transform="matrix(1.087 0 0 1 642.94 395.90)">8</text><text transform="matrix(0.895 0 0 1 655.68 395.90)">F</text><text transform="matrix(1.152 0 0 1 663.36 395.90)">:</text><text transform="matrix(1.087 0 0 1 671.06 395.90)">6</text><text transform="matrix(1.087 0 0 1 679.56 395.90)">7</text><text transform="matrix(1.087 0 0 1 688.05 395.90)">.</text><text transform="matrix(1.087 0 0 1 692.29 395.90)">8</text><text transform="matrix(0.975 0 0 1 700.79 395.90)">A</text></g>
<g font-size="14.07" fill="#000"><text transform="matrix(0.952 0 0 1 540.80 412.90)">L</text><text transform="matrix(1.047 0 0 1 548.24 412.90)">a</text><text transform="matrix(1.111 0 0 1 556.42 412.90)">m</text><text transform="matrix(1.152 0 0 1 569.42 412.90)">:</text><text transform="matrix(1.087 0 0 1 573.92 412.90)">7</text><text transform="matrix(1.087 0 0 1 582.41 412.90)">8</text><text transform="matrix(1.087 0 0 1 590.91 412.90)">9</text><text transform="matrix(1.087 0 0 1 599.40 412.90)">2</text><text transform="matrix(1.087 0 0 1 607.90 412.90)">.</text><text transform="matrix(1.087 0 0 1 612.14 412.90)">4</text><text transform="matrix(0.975 0 0 1 620.63 412.90)">A</text><text transform="matrix(0.900 0 0 1 634.01 412.90)">E</text><text transform="matrix(0.995 0 0 1 642.44 412.90)">W</text><text transform="matrix(1.152 0 0 1 655.64 412.90)">:</text><text transform="matrix(1.030 0 0 1 659.36 412.90)">-</text><text transform="matrix(1.087 0 0 1 664.18 412.90)">8</text><text transform="matrix(1.087 0 0 1 672.67 412.90)">4</text><text transform="matrix(1.087 0 0 1 681.16 412.90)">.</text><text transform="matrix(1.087 0 0 1 685.41 412.90)">1</text></g>
<g font-size="11.72" fill="#000"><text transform="matrix(0.858 0 0 1 167.20 756.00)">P</text><text transform="matrix(0.973 0 0 1 173.89 756.00)">A</text><text transform="matrix(0.989 0 0 1 180.78 756.00)">s</text><text transform="matrix(1.150 0 0 1 186.56 756.00)">:</text><text transform="matrix(1.250 0 0 1 193.96 756.00)">[</text><text transform="matrix(1.250 0 0 1 198.29 756.00)">'</text><text transform="matrix(1.085 0 0 1 201.21 756.00)">0</text><text transform="matrix(1.085 0 0 1 208.27 756.00)">7</text><text transform="matrix(1.085 0 0 1 215.33 756.00)">1</text><text transform="matrix(1.250 0 0 1 222.53 756.00)">'</text><text transform="matrix(1.085 0 0 1 225.45 756.00)">,</text><text transform="matrix(1.250 0 0 1 232.63 756.00)">'</text><text transform="matrix(1.085 0 0 1 235.56 756.00)">0</text><text transform="matrix(1.085 0 0 1 242.62 756.00)">9</text><text transform="matrix(1.085 0 0 1 249.68 756.00)">5</text><text transform="matrix(1.250 0 0 1 256.87 756.00)">'</text><text transform="matrix(1.085 0 0 1 259.80 756.00)">,</text><text transform="matrix(1.250 0 0 1 266.98 756.00)">'</text><text transform="matrix(1.085 0 0 1 269.90 756.00)">2</text><text transform="matrix(1.085 0 0 1 276.97 756.00)">0</text><text transform="matrix(1.085 0 0 1 284.03 756.00)">0</text><text transform="matrix(1.250 0 0 1 291.22 756.00)">'</text><text transform="matrix(1.250 0 0 1 294.28 756.00)">]</text></g>
<g font-size="11.72" fill="#000"><text transform="matrix(0.893 0 0 1 167.20 780.20)">F</text><text transform="matrix(1.186 0 0 1 173.58 780.20)">l</text><text transform="matrix(1.081 0 0 1 176.67 780.20)">u</text><text transform="matrix(1.123 0 0 1 183.70 780.20)">x</text><text transform="matrix(1.049 0 0 1 190.27 780.20)">e</text><text transform="matrix(0.989 0 0 1 196.76 780.20)">s</text><text transform="matrix(1.150 0 0 1 202.54 780.20)">:</text><text transform="matrix(0.973 0 0 1 209.81 780.20)">A</text><text transform="matrix(1.123 0 0 1 217.40 780.20)">v</text><text transform="matrix(1.083 0 0 1 223.32 780.20)">g</text><text transform="matrix(1.150 0 0 1 230.37 780.20)">:</text><text transform="matrix(1.085 0 0 1 237.64 780.20)">1</text><text transform="matrix(1.085 0 0 1 244.70 780.20)">.</text><text transform="matrix(1.085 0 0 1 248.23 780.20)">0</text><text transform="matrix(1.085 0 0 1 255.29 780.20)">9</text><text transform="matrix(1.085 0 0 1 262.35 780.20)">0</text><text transform="matrix(1.049 0 0 1 269.41 780.20)">e</text><text transform="matrix(1.028 0 0 1 276.24 780.20)">-</text><text transform="matrix(1.085 0 0 1 280.25 780.20)">1</text><text transform="matrix(1.085 0 0 1 287.31 780.20)">7</text><text transform="matrix(1.250 0 0 1 298.28 780.20)">+</text><text transform="matrix(1.150 0 0 1 307.20 780.20)">/</text><text transform="matrix(1.028 0 0 1 310.94 780.20)">-</text><text transform="matrix(1.085 0 0 1 314.95 780.20)">4</text><text transform="matrix(1.085 0 0 1 322.01 780.20)">.</text><text transform="matrix(1.085 0 0 1 325.54 780.20)">9</text><text transform="matrix(1.085 0 0 1 332.60 780.20)">3</text><text transform="matrix(1.085 0 0 1 339.66 780.20)">5</text><text transform="matrix(1.049 0 0 1 346.73 780.20)">e</text><text transform="matrix(1.028 0 0 1 353.55 780.20)">-</text><text transform="matrix(1.085 0 0 1 357.56 780.20)">1</text><text transform="matrix(1.085 0 0 1 364.62 780.20)">8</text><text transform="matrix(1.049 0 0 1 375.21 780.20)">e</text><text transform="matrix(1.171 0 0 1 382.04 780.20)">r</text><text transform="matrix(1.083 0 0 1 386.61 780.20)">g</text><text transform="matrix(1.150 0 0 1 393.46 780.20)">/</text><text transform="matrix(0.989 0 0 1 397.20 780.20)">s</text><text transform="matrix(1.111 0 0 1 402.98 780.20)">(</text><text transform="matrix(1.085 0 0 1 407.31 780.20)">3</text><text transform="matrix(1.111 0 0 1 414.37 780.20)">)</text></g>
<g font-size="11.72" fill="#000"><text transform="matrix(0.893 0 0 1 167.20 805.90)">F</text><text transform="matrix(0.994 0 0 1 173.58 805.90)">W</text><text transform="matrix(0.988 0 0 1 184.56 805.90)">H</text><text transform="matrix(0.983 0 0 1 192.91 805.90)">M</text><text transform="matrix(0.989 0 0 1 202.48 805.90)">s</text><text transform="matrix(1.150 0 0 1 211.79 805.90)">:</text><text transform="matrix(0.973 0 0 1 219.06 805.90)">A</text><text transform="matrix(1.123 0 0 1 226.66 805.90)">v</text><text transform="matrix(1.083 0 0 1 232.57 805.90)">g</text><text transform="matrix(1.150 0 0 1 239.62 805.90)">:</text><text transform="matrix(1.085 0 0 1 253.94 805.90)">9</text><text transform="matrix(1.085 0 0 1 261.01 805.90)">2</text><text transform="matrix(1.085 0 0 1 268.07 805.90)">.</text><text transform="matrix(1.085 0 0 1 271.60 805.90)">1</text><text transform="matrix(1.085 0 0 1 278.66 805.90)">9</text><text transform="matrix(1.085 0 0 1 285.72 805.90)">9</text><text transform="matrix(1.250 0 0 1 296.69 805.90)">+</text><text transform="matrix(1.150 0 0 1 305.61 805.90)">/</text><text transform="matrix(1.028 0 0 1 309.35 805.90)">-</text><text transform="matrix(1.085 0 0 1 320.42 805.90)">2</text><text transform="matrix(1.085 0 0 1 327.48 805.90)">8</text><text transform="matrix(1.085 0 0 1 334.54 805.90)">.</text><text transform="matrix(1.085 0 0 1 338.07 805.90)">8</text><text transform="matrix(1.085 0 0 1 345.13 805.90)">0</text><text transform="matrix(1.085 0 0 1 352.19 805.90)">7</text><text transform="matrix(1.111 0 0 1 362.78 805.90)">(</text><text transform="matrix(1.085 0 0 1 367.11 805.90)">3</text><text transform="matrix(1.111 0 0 1 374.18 805.90)">)</text></g>
<g font-size="11.72" fill="#000"><text transform="matrix(0.950 0 0 1 167.20 831.60)">L</text><text transform="matrix(1.045 0 0 1 173.38 831.60)">a</text><text transform="matrix(1.109 0 0 1 180.19 831.60)">m</text><text transform="matrix(0.989 0 0 1 191.00 831.60)">s</text><text transform="matrix(1.150 0 0 1 203.84 831.60)">:</text><text transform="matrix(0.973 0 0 1 211.11 831.60)">A</text><text transform="matrix(1.123 0 0 1 218.70 831.60)">v</text><text transform="matrix(1.083 0 0 1 224.62 831.60)">g</text><text transform="matrix(1.150 0 0 1 231.66 831.60)">:</text><text transform="matrix(1.085 0 0 1 238.93 831.60)">7</text><text transform="matrix(1.085 0 0 1 245.99 831.60)">8</text><text transform="matrix(1.085 0 0 1 253.06 831.60)">3</text><text transform="matrix(1.085 0 0 1 260.12 831.60)">5</text><text transform="matrix(1.085 0 0 1 267.18 831.60)">.</text><text transform="matrix(1.085 0 0 1 270.71 831.60)">9</text><text transform="matrix(1.085 0 0 1 277.77 831.60)">3</text><text transform="matrix(1.085 0 0 1 284.84 831.60)">6</text><text transform="matrix(1.250 0 0 1 295.81 831.60)">+</text><text transform="matrix(1.150 0 0 1 304.73 831.60)">/</text><text transform="matrix(1.028 0 0 1 308.47 831.60)">-</text><text transform="matrix(1.085 0 0 1 319.53 831.60)">6</text><text transform="matrix(1.085 0 0 1 326.59 831.60)">5</text><text transform="matrix(1.085 0 0 1 333.65 831.60)">.</text><text transform="matrix(1.085 0 0 1 337.18 831.60)">5</text><text transform="matrix(1.085 0 0 1 344.24 831.60)">8</text><text transform="matrix(1.085 0 0 1 351.31 831.60)">8</text><text transform="matrix(1.111 0 0 1 361.90 831.60)">(</text><text transform="matrix(1.085 0 0 1 366.23 831.60)">3</text><text transform="matrix(1.111 0 0 1 373.29 831.60)">)</text></g>
<g font-size="11.72" fill="#000"><text transform="matrix(0.899 0 0 1 167.20 857.50)">E</text><text transform="matrix(0.994 0 0 1 174.21 857.50)">W</text><text transform="matrix(0.989 0 0 1 185.19 857.50)">s</text><text transform="matrix(1.150 0 0 1 201.56 857.50)">:</text><text transform="matrix(0.973 0 0 1 208.82 857.50)">A</text><text transform="matrix(1.123 0 0 1 216.42 857.50)">v</text><text transform="matrix(1.083 0 0 1 222.34 857.50)">g</text><text transform="matrix(1.150 0 0 1 229.38 857.50)">:</text><text transform="matrix(1.028 0 0 1 236.65 857.50)">-</text><text transform="matrix(1.085 0 0 1 240.65 857.50)">4</text><text transform="matrix(1.085 0 0 1 247.72 857.50)">5</text><text transform="matrix(1.085 0 0 1 254.78 857.50)">4</text><text transform="matrix(1.085 0 0 1 261.84 857.50)">.</text><text transform="matrix(1.085 0 0 1 265.37 857.50)">5</text><text transform="matrix(1.085 0 0 1 272.43 857.50)">8</text><text transform="matrix(1.085 0 0 1 279.50 857.50)">3</text><text transform="matrix(1.049 0 0 1 286.56 857.50)">e</text><text transform="matrix(1.250 0 0 1 297.29 857.50)">+</text><text transform="matrix(1.150 0 0 1 306.22 857.50)">/</text><text transform="matrix(1.028 0 0 1 309.96 857.50)">-</text><text transform="matrix(1.085 0 0 1 317.49 857.50)">3</text><text transform="matrix(1.085 0 0 1 324.55 857.50)">2</text><text transform="matrix(1.085 0 0 1 331.61 857.50)">2</text><text transform="matrix(1.085 0 0 1 338.68 857.50)">.</text><text transform="matrix(1.085 0 0 1 342.20 857.50)">9</text><text transform="matrix(1.085 0 0 1 349.27 857.50)">1</text><text transform="matrix(1.085 0 0 1 356.33 857.50)">0</text><text transform="matrix(1.111 0 0 1 366.92 857.50)">(</text><text transform="matrix(1.085 0 0 1 371.25 857.50)">3</text><text transform="matrix(1.111 0 0 1 378.31 857.50)">)</text></g>
<g font-size="11.72" fill="#000"><text transform="matrix(0.917 0 0 1 167.70 883.50)">C</text><text transform="matrix(1.081 0 0 1 175.45 883.50)">h</text><text transform="matrix(1.186 0 0 1 182.49 883.50)">i</text><text transform="matrix(1.085 0 0 1 185.57 883.50)">2</text><text transform="matrix(0.989 0 0 1 192.63 883.50)">s</text><text transform="matrix(1.150 0 0 1 209.00 883.50)">:</text><text transform="matrix(0.973 0 0 1 216.27 883.50)">A</text><text transform="matrix(1.123 0 0 1 223.86 883.50)">v</text><text transform="matrix(1.083 0 0 1 229.78 883.50)">g</text><text transform="matrix(1.150 0 0 1 236.83 883.50)">:</text><text transform="matrix(1.085 0 0 1 254.68 883.50)">6</text><text transform="matrix(1.085 0 0 1 261.74 883.50)">.</text><text transform="matrix(1.085 0 0 1 265.27 883.50)">0</text><text transform="matrix(1.085 0 0 1 272.33 883.50)">2</text><text transform="matrix(1.085 0 0 1 279.39 883.50)">1</text><text transform="matrix(1.049 0 0 1 286.46 883.50)">e</text><text transform="matrix(1.250 0 0 1 297.19 883.50)">+</text><text transform="matrix(1.150 0 0 1 306.11 883.50)">/</text><text transform="matrix(1.028 0 0 1 309.85 883.50)">-</text><text transform="matrix(1.085 0 0 1 324.44 883.50)">1</text><text transform="matrix(1.085 0 0 1 331.51 883.50)">.</text><text transform="matrix(1.085 0 0 1 335.03 883.50)">9</text><text transform="matrix(1.085 0 0 1 342.10 883.50)">9</text><text transform="matrix(1.085 0 0 1 349.16 883.50)">7</text><text transform="matrix(1.111 0 0 1 359.75 883.50)">(</text><text transform="matrix(1.085 0 0 1 364.08 883.50)">3</text><text transform="matrix(1.111 0 0 1 371.14 883.50)">)</text></g>
</svg>
</body></html>
